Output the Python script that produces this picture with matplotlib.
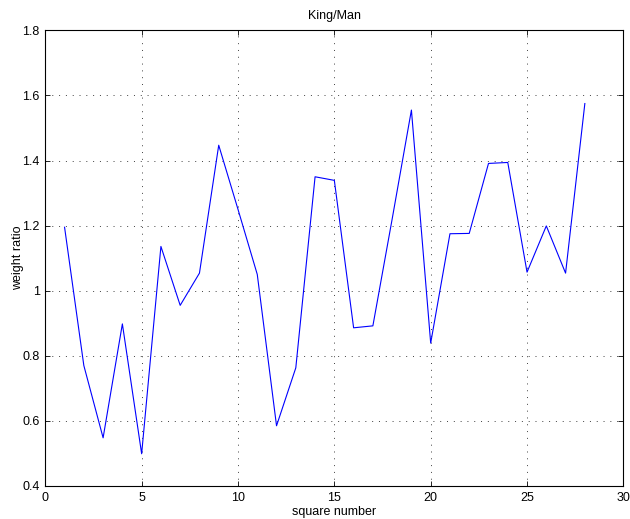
import matplotlib
matplotlib.use("Agg")
import matplotlib.pyplot as plt

squares = list(range(1, 29))
ratios = [1.195, 0.77, 0.548, 0.898, 0.499, 1.136, 0.955, 1.054, 1.447, 1.25,
          1.05, 0.585, 0.763, 1.35, 1.339, 0.886, 0.892, 1.22, 1.555, 0.839,
          1.175, 1.176, 1.391, 1.394, 1.057, 1.199, 1.054, 1.575]
x_ticks = [0, 5, 10, 15, 20, 25, 30]
y_ticks = [0.4, 0.6, 0.8, 1.0, 1.2, 1.4, 1.6, 1.8]
y_tick_labels = ["0.4", "0.6", "0.8", "1", "1.2", "1.4", "1.6", "1.8"]

plt.rcParams['font.family'] = ['Liberation Sans', 'DejaVu Sans']
plt.rcParams['font.size'] = 9

fig = plt.figure(figsize=(6.3, 5.19), dpi=100)
ax = fig.add_axes([0.0719, 0.0636, 0.9176, 0.878])
ax.plot(squares, ratios, color='#0000ff', linewidth=0.8)
ax.set_xlim(0, 30)
ax.set_ylim(0.4, 1.8)
ax.set_xticks(x_ticks)
ax.set_yticks(y_ticks)
ax.set_yticklabels(y_tick_labels)
ax.tick_params(direction='in', length=3.6, width=0.6, top=True, right=True, pad=4)
ax.grid(True, color='0.25', linewidth=0.7, linestyle=(0, (1, 6)))
for s in ax.spines.values():
    s.set_linewidth(0.8)
ax.set_title("King/Man", fontsize=9, pad=8)
ax.set_xlabel("square number", labelpad=2)
ax.set_ylabel("weight ratio", labelpad=-1)
fig.savefig("out.png", dpi=100)
